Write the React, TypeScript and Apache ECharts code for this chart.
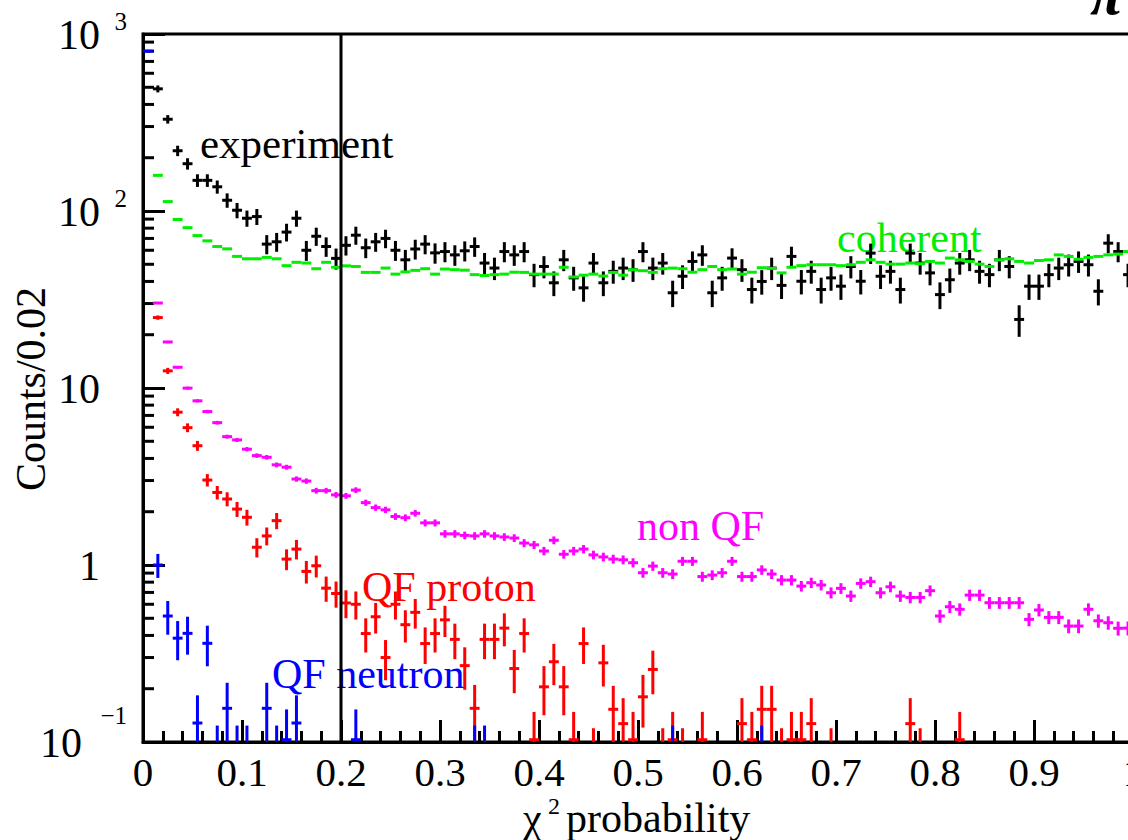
import React, { useEffect, useRef } from "react";
import * as echarts from "echarts";

// ---------- data (bin i covers [0.01*i, 0.01*(i+1)]) ----------
const BIN_W = 0.01;
const binCenter = (i: number) => BIN_W / 2 + BIN_W * i;

const experiment: (number | null)[] = [
  null, 490, 330, 219, 185, 149, 149, 137, 115, 101,
  91, 93, 65, 67, 76, 91, 60, 72, 63, 54,
  64, 73, 62, 67, 70, 60, 53, 61, 65, 58,
  59, 56.5, 59.6, 63, 50.8, 47.6, 59, 56.5, 59, 43.7,
  48.6, 39.3, 53, 41.9, 36.8, 50.8, 39.3, 45.6, 47.6, 46.6,
  59, 47.6, 50.8, 34.5, 42.8, 51.9, 56.5, 34.5, 41.9, 54.2,
  46.6, 36, 40, 47.6, 38, 55.4, 40.1, 45.6, 36, 41.9,
  37.6, 48.6, 40.1, 57.8, 42.8, 45.6, 36, 57.8, 50.8, 44.7,
  33.7, 40.9, 50.8, 53, 45.6, 43.7, 53, 48.6, 24.4, 37.6,
  37.6, 43.7, 47.6, 49.7, 51.9, 49.7, 35.2, 65.8, 59, 43.7,
];

const coherent: (number | null)[] = [
  null, 159, 113, 89.5, 80.5, 72.6, 67.8, 63, 61.1, 55.4,
  53.7, 53.7, 54.7, 53.7, 49.1, 51.3, 50.8, 47.2, 51.3, 48.1,
  49, 48.6, 45, 45, 47.6, 44, 45.3, 46.2, 47.2, 44,
  47, 46.6, 46.3, 43.7, 43.2, 43.7, 44, 45.1, 45, 44,
  44, 44, 48.1, 42.4, 43.4, 44, 42.9, 45, 43.4, 46.6,
  46, 45, 47.2, 47.6, 47.2, 45.1, 46.6, 48.6, 46.6, 47,
  44, 45.1, 47.8, 47.4, 44.7, 48.1, 49.1, 49.7, 49.7, 49.7,
  49.1, 49.7, 51.3, 53, 51.3, 50.1, 50.1, 50.8, 50.4, 51.9,
  50.8, 54.2, 53, 51.9, 50.1, 48.6, 53, 53.7, 51.9, 50.8,
  52.5, 53, 56.5, 55.4, 53.4, 54.7, 55.4, 56.5, 57.1, 59,
];

const nonQF: (number | null)[] = [
  null, 30.2, 18.2, 13.1, 9.98, 8.46, 7.36, 6.37, 5.31, 5.09,
  4.51, 4.15, 4.06, 3.68, 3.57, 3.06, 2.98, 2.63, 2.63, 2.49,
  2.46, 2.65, 2.25, 2.11, 2.05, 1.88, 1.85, 1.96, 1.73, 1.73,
  1.5, 1.5, 1.47, 1.46, 1.5, 1.46, 1.44, 1.42, 1.33, 1.3,
  1.2, 1.38, 1.15, 1.2, 1.23, 1.14, 1.11, 1.08, 1.07, 1.03,
  0.904, 0.986, 0.904, 0.889, 1.05, 1.05, 0.86, 0.877, 0.904, 1.05,
  0.86, 0.86, 0.938, 0.889, 0.822, 0.822, 0.76, 0.794, 0.771, 0.697,
  0.738, 0.668, 0.787, 0.805, 0.697, 0.753, 0.668, 0.656, 0.656, 0.716,
  0.515, 0.581, 0.562, 0.676, 0.676, 0.612, 0.612, 0.612, 0.612, 0.493,
  0.557, 0.506, 0.506, 0.452, 0.452, 0.562, 0.484, 0.472, 0.439, 0.44,
];

const qfProton: (number | null)[] = [
  null, 25, 12.5, 7.3, 5.97, 4.72, 3.02, 2.57, 2.36, 2.07,
  1.86, 1.26, 1.46, 1.78, 1.08, 1.23, 0.92, 0.99, 0.74, 0.69,
  0.61, 0.6, 0.41, 0.51, 0.3, 0.6, 0.46, 0.54, 0.36, 0.41,
  0.49, 0.38, 0.27, 0.155, 0.38, 0.38, 0.44, 0.26, 0.41, 0.103,
  0.205, 0.284, 0.205, 0.103, 0.36, 0.08, 0.28, 0.153, 0.127, 0.103,
  0.18, 0.257, 0.08, 0.103, 0.08, null, 0.103, null, null, null,
  0.127, 0.103, 0.153, 0.153, 0.08, 0.103, 0.103, 0.127, null, 0.08,
  null, null, null, null, null, null, null, 0.127, 0.08, null,
  null, null, 0.103, null, null, null, null, null, null, null,
  null, null, null, null, null, null, null, null, null, null,
];

const qfNeutron: (number | null)[] = [
  800, 1.0, 0.515, 0.386, 0.411, 0.128, 0.361, 0.08, 0.155, 0.08,
  0.08, null, 0.155, 0.08, 0.103, 0.128, null, null, null, null,
  null, 0.103, null, null, null, null, null, null, null, null,
  null, null, null, 0.08, 0.08, null, null, null, null, null,
  null, null, null, null, null, null, null, null, null, null,
  null, null, null, 0.08, null, null, null, null, null, null,
  null, null, 0.08, null, null, null, null, null, null, null,
  null, null, null, null, null, null, null, null, null, null,
  null, null, null, null, null, null, null, null, null, null,
  null, null, null, null, null, null, null, null, null, null,
];

const xTickLabels = ["0", "0.1", "0.2", "0.3", "0.4", "0.5", "0.6", "0.7", "0.8", "0.9", "1"];
const yLabelValues = [0.1, 1, 10, 100, 1000];
const yLabelBase = ["10", "1", "10", "10", "10"];
const yLabelSup = ["\u22121", "", "", "2", "3"];
const yMinorMantissas = [2, 3, 4, 5, 6, 7, 8, 9];
const yDecades = [0.1, 1, 10, 100];
const cutValue = [0.2];

const SERIF = '"Liberation Serif", "Times New Roman", serif';

const toPoints = (arr: (number | null)[]) =>
  arr
    .map((v, i) => (v == null ? null : [binCenter(i), v]))
    .filter((p) => p !== null) as number[][];

const crossRenderer = (color: string, errScale: number, lw: number) => (params: any, api: any) => {
  const x = api.value(0);
  const v = api.value(1);
  const e = errScale * Math.sqrt(v);
  const a = api.coord([x - BIN_W / 2, v]);
  const b = api.coord([x + BIN_W / 2, v]);
  const children: any[] = [
    { type: "line", shape: { x1: a[0], y1: a[1], x2: b[0], y2: b[1] }, style: { stroke: color, lineWidth: lw } },
  ];
  if (e > 0) {
    const t = api.coord([x, v + e]);
    const d = api.coord([x, Math.max(v - e, 1e-4)]);
    children.push({ type: "line", shape: { x1: t[0], y1: t[1], x2: d[0], y2: d[1] }, style: { stroke: color, lineWidth: lw } });
  }
  return { type: "group", children };
};

const txt = (text: string, x: number, y: number, size: number, fill: string, extra: any = {}) => ({
  type: "text",
  x,
  y,
  silent: true,
  ...extra,
  style: {
    text,
    fill,
    font: `${size}px ${SERIF}`,
    align: extra.align || "left",
    verticalAlign: "middle",
    textAlign: extra.align || "left",
    textVerticalAlign: "middle",
  },
});

export default function App() {
  const ref = useRef<HTMLDivElement>(null);
  useEffect(() => {
    if (!ref.current) return;
    const chart = echarts.init(ref.current, undefined, { renderer: "svg" });

    const minorTickData: number[][] = [];
    yDecades.forEach((d) => yMinorMantissas.forEach((m) => minorTickData.push([0, m * d])));

    const option: any = {
      animation: false,
      backgroundColor: "#ffffff",
      grid: {
        left: 143,
        top: 34,
        bottom: 98,
        right: -5,
        containLabel: false,
        outerBoundsMode: "none",
        show: true,
        borderColor: "#000",
        borderWidth: 3,
      },
      xAxis: {
        type: "value",
        min: 0,
        max: 1,
        interval: 0.1,
        axisLine: { show: true, lineStyle: { color: "#000", width: 3 } },
        axisTick: { show: true, inside: true, length: 22, lineStyle: { color: "#000", width: 3 } },
        minorTick: { show: true, splitNumber: 5, length: 11, lineStyle: { color: "#000", width: 3 } },
        splitLine: { show: false },
        axisLabel: {
          margin: 16,
          color: "#000",
          fontSize: 41,
          lineHeight: 28,
          fontFamily: SERIF,
          hideOverlap: false,
          formatter: (v: number) => xTickLabels[Math.round(v * 10)] ?? "",
        },
      },
      yAxis: {
        type: "log",
        logBase: 10,
        min: 0.1,
        max: 1000,
        axisLine: { show: true, lineStyle: { color: "#000", width: 3 } },
        axisTick: { show: true, inside: true, length: 22, lineStyle: { color: "#000", width: 3 } },
        axisLabel: { show: false },
        splitLine: { show: false },
      },
      graphic: [
        txt("experiment", 200, 143, 43, "#000"),
        txt("coherent", 837, 238, 42, "#00ee00"),
        txt("non QF", 637, 526, 42, "#ff00ff"),
        txt("QF proton", 362, 587, 42, "#ff0000"),
        txt("QF neutron", 272, 674, 42, "#0000ff"),
        txt("\u03c7", 523, 818, 42, "#000"),
        txt("2", 548, 806, 24, "#000"),
        txt("probability", 566, 818, 42, "#000"),
        txt("Counts/0.02", 31, 389, 42, "#000", { rotation: Math.PI / 2, align: "center" }),
        {
          type: "text",
          x: 1090,
          y: 24,
          silent: true,
          style: {
            text: "\u03c0",
            fill: "#000",
            font: `italic bold 60px ${SERIF}`,
            align: "left",
            verticalAlign: "bottom",
            textAlign: "left",
            textVerticalAlign: "bottom",
          },
        },
      ],
      series: [
        {
          type: "custom",
          name: "yMinorTicks",
          silent: true,
          clip: false,
          data: minorTickData,
          renderItem: (params: any, api: any) => {
            const p = api.coord([0, api.value(1)]);
            return { type: "line", shape: { x1: p[0], y1: p[1], x2: p[0] + 11, y2: p[1] }, style: { stroke: "#000", lineWidth: 3 } };
          },
        },
        {
          type: "custom",
          name: "yLabels",
          silent: true,
          clip: false,
          data: yLabelValues.map((v) => [0, v]),
          renderItem: (params: any, api: any) => {
            const i = params.dataIndex;
            const p = api.coord([0, api.value(1)]);
            const sup = yLabelSup[i];
            const neg = sup.startsWith("\u2212");
            const kids: any[] = [
              {
                type: "text",
                x: p[0] - (neg ? 61 : 43),
                y: p[1] + 1,
                style: { text: yLabelBase[i], fill: "#000", font: `42px ${SERIF}`, align: "right", verticalAlign: "middle", textAlign: "right", textVerticalAlign: "middle" },
              },
            ];
            if (sup) {
              kids.push({
                type: "text",
                x: p[0] - 16,
                y: p[1] - (neg ? 27 : 13),
                style: { text: sup, fill: "#000", font: `25px ${SERIF}`, align: "right", verticalAlign: "middle", textAlign: "right", textVerticalAlign: "middle" },
              });
            }
            return { type: "group", children: kids };
          },
        },
        {
          type: "custom",
          name: "experiment",
          clip: true,
          data: toPoints(experiment),
          renderItem: crossRenderer("#000000", 1, 3),
        },
        {
          type: "custom",
          name: "coherent",
          clip: true,
          data: toPoints(coherent),
          renderItem: crossRenderer("#00ee00", 0, 3),
        },
        {
          type: "custom",
          name: "non QF",
          clip: true,
          data: toPoints(nonQF),
          renderItem: crossRenderer("#ff00ff", 0.06, 3),
        },
        {
          type: "custom",
          name: "QF proton",
          clip: true,
          data: toPoints(qfProton),
          renderItem: crossRenderer("#ff0000", 0.14, 3),
        },
        {
          type: "custom",
          name: "QF neutron",
          clip: true,
          data: toPoints(qfNeutron),
          renderItem: crossRenderer("#0000ff", 0.155, 3),
        },
        {
          type: "custom",
          name: "cut",
          silent: true,
          clip: true,
          data: cutValue.map((c) => [c]),
          renderItem: (params: any, api: any) => {
            const c = api.value(0);
            const a = api.coord([c, 0.1]);
            const b = api.coord([c, 1000]);
            return { type: "line", shape: { x1: a[0], y1: a[1], x2: b[0], y2: b[1] }, style: { stroke: "#000", lineWidth: 3 } };
          },
        },
      ],
    };
    chart.setOption(option);
    return () => chart.dispose();
  }, []);
  return <div ref={ref} style={{ position: "absolute", left: 0, top: 0, width: 1128, height: 840 }} />;
}
